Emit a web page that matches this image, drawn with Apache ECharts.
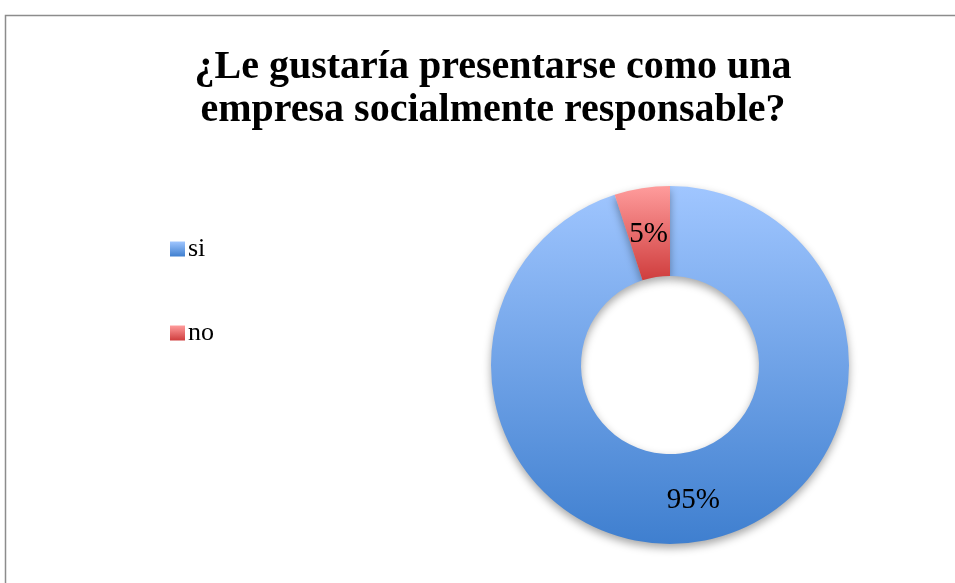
<!DOCTYPE html>
<html>
<head>
<meta charset="utf-8">
<script src="https://cdn.jsdelivr.net/npm/echarts@6/dist/echarts.min.js"></script>
<style>
html,body{margin:0;padding:0;background:#fff;}
#chart{width:955px;height:583px;}
</style>
</head>
<body>
<div id="chart"></div>
<script>
const titleText = '¿Le gustaría presentarse como una\nempresa socialmente responsable?';
const categories = ['si', 'no'];
const values = [95, 5];
const labels = ['95%', '5%'];

const colors = [
  ['#A0C6FF', '#3F7FCF'],
  ['#FF9C9C', '#CF3D3D']
];

const chart = echarts.init(document.getElementById('chart'));
const serif = '"Liberation Serif", "DejaVu Serif", serif';

chart.setOption({
  backgroundColor: '#fff',
  animation: false,
  graphic: [{
    type: 'rect',
    shape: { x: 5.5, y: 15.5, width: 1000, height: 1000 },
    style: { fill: 'none', stroke: '#8c8c8c', lineWidth: 1.5 },
    silent: true
  }],
  title: {
    text: titleText,
    left: 488,
    top: 41,
    textAlign: 'center',
    textStyle: {
      fontFamily: serif,
      fontWeight: 'bold',
      fontSize: 40,
      lineHeight: 43,
      color: '#000'
    }
  },
  legend: {
    orient: 'vertical',
    left: 165,
    top: 231,
    itemGap: 58,
    itemWidth: 15,
    itemHeight: 15,
    icon: 'rect',
    data: categories,
    textStyle: { fontFamily: serif, fontSize: 26, color: '#000', padding: [0, 0, 0, -2] }
  },
  series: [{
    type: 'pie',
    center: [670, 365],
    radius: [89, 179],
    startAngle: 90,
    clockwise: true,
    avoidLabelOverlap: false,
    data: categories.map((c, i) => ({
      name: c,
      value: values[i],
      label: { formatter: labels[i], offset: i === 1 ? [0, 5] : [2, 0] },
      itemStyle: {
        color: new echarts.graphic.LinearGradient(0, 0, 0, 1, [
          { offset: 0, color: colors[i][0] },
          { offset: 1, color: colors[i][1] }
        ])
      }
    })),
    itemStyle: {
      shadowBlur: 8,
      shadowColor: 'rgba(0,0,0,0.35)',
      shadowOffsetY: 4,
      borderWidth: 0
    },
    label: {
      show: true,
      position: 'inside',
      fontFamily: serif,
      fontSize: 29,
      color: '#000'
    },
    labelLine: { show: false },
    emphasis: { disabled: true }
  }]
});
</script>
</body>
</html>
